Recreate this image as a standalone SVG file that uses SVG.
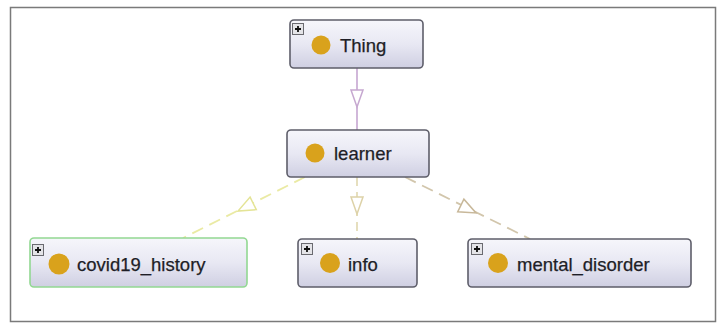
<svg xmlns="http://www.w3.org/2000/svg" width="719" height="324" viewBox="0 0 719 324">
<defs>
<linearGradient id="nodeFill" x1="0" y1="0" x2="0" y2="1">
<stop offset="0" stop-color="#F6F6FB"/>
<stop offset="0.5" stop-color="#E8E8F3"/>
<stop offset="1" stop-color="#CFCFE2"/>
</linearGradient>
<g id="plus">
<rect x="0.5" y="0.5" width="11" height="11" fill="#E4E4E8" stroke="#6A6A70" stroke-width="1"/>
<path d="M3 6H9M6 3V9" stroke="#111" stroke-width="1.8"/>
</g>
</defs>
<style>
.node{fill:url(#nodeFill);stroke:#5E5E6A;stroke-width:1.6}
.sel{stroke:#92D892}
.dot{fill:#D9A21C}
.lbl{font-family:"Liberation Sans",Arial,sans-serif;font-size:18.5px;fill:#1E1E26;stroke:#1E1E26;stroke-width:0.25}
.edge{fill:none;stroke-width:1.8}
.tri{fill:#FFFFFF;stroke-width:1.5}
</style>
<rect x="10.5" y="7.5" width="705" height="314" fill="#FFFFFF" stroke="#7A7A7A" stroke-width="1.5"/>
<g id="connectors">
<line class="edge" x1="357" y1="68" x2="357" y2="130" stroke="#CCB0D6"/>
<polygon class="tri" points="351,90 363,90 357,107" stroke="#C6A8D0"/>
<line class="edge" x1="357" y1="177" x2="357" y2="239" stroke="#E4DCB8" stroke-dasharray="9,6"/>
<polygon class="tri" points="351,197 363,197 357,214" stroke="#DDD2A8"/>
<line class="edge" x1="305" y1="177" x2="183" y2="238" stroke="#EAEAA4" stroke-dasharray="12,7"/>
<polygon class="tri" points="250.1,197.1 256.3,209.7 238,211" stroke="#E4E496"/>
<line class="edge" x1="405" y1="177" x2="530" y2="239" stroke="#D2C6AC" stroke-dasharray="12,7"/>
<polygon class="tri" points="463.9,199.2 457.7,211.8 476,213" stroke="#C8B89A"/>
</g>
<g id="node-thing">
<rect class="node" x="290" y="20" width="133" height="48" rx="4"/>
<use href="#plus" x="292" y="23"/>
<circle class="dot" cx="321" cy="45" r="9.5"/>
<text class="lbl" x="340" y="52">Thing</text>
</g>
<g id="node-learner">
<rect class="node" x="287" y="130" width="142" height="47" rx="4"/>
<circle class="dot" cx="315" cy="153" r="9.5"/>
<text class="lbl" x="334" y="160">learner</text>
</g>
<g id="node-covid19_history">
<rect class="node sel" x="30" y="238" width="217" height="49" rx="4"/>
<use href="#plus" x="32" y="244"/>
<circle class="dot" cx="59" cy="264" r="10.5"/>
<text class="lbl" x="77" y="271">covid19_history</text>
</g>
<g id="node-info">
<rect class="node" x="298" y="239" width="119" height="48" rx="4"/>
<use href="#plus" x="301" y="243"/>
<circle class="dot" cx="330" cy="263" r="10"/>
<text class="lbl" x="348" y="271">info</text>
</g>
<g id="node-mental_disorder">
<rect class="node" x="468" y="239" width="223" height="48" rx="4"/>
<use href="#plus" x="471" y="243"/>
<circle class="dot" cx="498" cy="263" r="10"/>
<text class="lbl" x="517" y="271">mental_disorder</text>
</g>
</svg>
